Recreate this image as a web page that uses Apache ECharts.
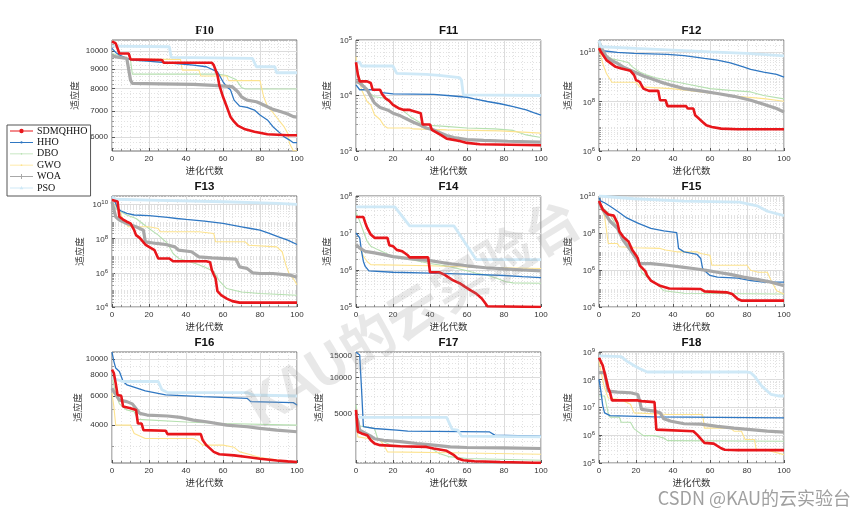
<!DOCTYPE html>
<html><head><meta charset="utf-8">
<script src="https://cdn.jsdelivr.net/npm/echarts@6/dist/echarts.min.js"></script>
<style>html,body{margin:0;padding:0;background:#fff}#c{width:865px;height:520px}</style>
</head><body><div id="c"></div>
<script>
const algorithms = ['SDMQHHO','HHO','DBO','GWO','WOA','PSO'];
const xTicks = [0,20,40,60,80,100];

// ---------- F10 ----------
const F10_SDMQHHO = [[0,10600],[2,10470],[4,9860],[9,9860],[10,9520],[27,9480],[28,9330],[54,9330],[55,9200],[57,8670],[58,8170],[60,7620],[62,7190],[64,6770],[66,6570],[68,6420],[72,6280],[77,6190],[84,6100],[95,6060],[100,6060]];
const F10_HHO = [[0,10160],[2,9920],[4,9770],[8,9570],[11,9480],[19,9420],[30,9330],[44,9200],[51,9110],[57,8840],[60,8330],[62,8090],[64,7950],[66,7470],[69,7210],[73,7150],[77,7040],[80,6840],[84,6640],[87,6380],[91,6130],[93,6010],[96,5890],[98,5800],[100,5800]];
const F10_DBO = [[0,9860],[5,9700],[10,9480],[11,8720],[57,8720],[62,8650],[67,8450],[70,8050],[72,7980],[100,7980]];
const F10_GWO = [[0,9710],[5,9600],[11,9520],[37,9520],[38,8930],[47,8930],[48,8620],[62,8620],[63,8390],[80,8390],[82,7620],[84,7200],[87,6940],[91,6550],[93,6380],[95,6130],[96,5770],[98,5530],[100,5530]];
const F10_WOA = [[0,9710],[3,9650],[8,9570],[9,9520],[10,8420],[11,8250],[26,8230],[44,8200],[55,8150],[65,8090],[68,7850],[70,7620],[73,7470],[78,7400],[80,7330],[84,7180],[87,7070],[91,6980],[95,6880],[98,6770],[100,6750]];
const F10_PSO = [[0,10300],[31,10260],[32,9630],[76,9570],[78,9110],[88,9110],[89,8790],[100,8790]];
const F10_range = [5520,10680];
const F10_ticks = [6000,7000,8000,9000,10000];

// ---------- F11 ----------
const F11_SDMQHHO = [[0,39800],[1,23800],[2,18000],[6,18000],[8,16800],[9,12700],[13,12700],[14,10700],[16,8900],[18,8000],[20,6760],[23,5900],[26,5500],[29,5500],[30,5100],[35,4800],[36,3000],[40,3000],[41,2400],[46,1930],[49,1670],[56,1520],[60,1400],[67,1320],[100,1270]];
const F11_HHO = [[0,15600],[2,12700],[13,12700],[14,11300],[20,10700],[42,10500],[51,9900],[60,9300],[64,8700],[71,7800],[78,7100],[85,6300],[92,5500],[96,4900],[100,4450]];
const F11_DBO = [[0,34000],[2,20000],[6,12000],[10,9500],[15,9000],[20,7000],[25,5500],[30,4000],[35,3200],[40,2900],[50,2750],[60,2600],[75,2500],[85,2350],[92,1950],[100,1750]];
const F11_GWO = [[0,50000],[1,25000],[3,12700],[6,7800],[8,6800],[10,4500],[13,3700],[15,2900],[17,2600],[29,2600],[31,2500],[49,2400],[78,2300],[100,2100]];
const F11_WOA = [[0,18000],[2,16800],[6,12700],[8,9600],[10,7300],[13,6100],[17,5500],[20,4800],[24,4300],[28,3700],[31,3300],[35,2900],[38,2600],[42,2400],[46,2100],[49,1900],[53,1750],[60,1600],[69,1550],[82,1500],[100,1450]];
const F11_PSO = [[0,39800],[2,39800],[3,34000],[20,34000],[22,25000],[38,24000],[45,23000],[56,21000],[57,19000],[58,10300],[100,10000]];
const F11_range = [1e3,1e5];
const F11_ticks = [1e3,1e4,1e5];

// ---------- F12 ----------
const F12_SDMQHHO = [[0,1.5e10],[1,1.06e10],[4,4.9e9],[9,2.6e9],[12,2.23e9],[17,1.8e9],[19,1.2e9],[20,7.5e8],[22,6.4e8],[24,3.4e8],[27,2.76e8],[32,2.76e8],[33,1.15e8],[36,1.15e8],[37,6.6e7],[47,6.6e7],[48,5.3e7],[51,5.3e7],[52,2.8e7],[54,2.07e7],[56,1.5e7],[58,1.1e7],[61,9.5e6],[66,8.1e6],[75,7.6e6],[100,7.6e6]];
const F12_HHO = [[0,2.5e10],[2,1.17e10],[10,1e10],[19,9.1e9],[37,8.3e9],[46,7.5e9],[57,5.7e9],[64,4.9e9],[71,3.8e9],[78,2.6e9],[82,2.04e9],[89,1.6e9],[96,1.3e9],[100,1.0e9]];
const F12_DBO = [[0,2e10],[3,9.1e9],[5,6.7e9],[7,5.5e9],[12,4.6e9],[16,3.8e9],[18,2.6e9],[22,1.6e9],[26,1.2e9],[30,9.6e8],[35,8e8],[46,5.5e8],[60,3.4e8],[71,2.9e8],[82,2.5e8],[89,1.8e8],[100,1.3e8]];
const F12_GWO = [[0,1.45e10],[2,3.6e9],[4,1.4e9],[7,6.2e8],[20,6.2e8],[22,4e8],[39,3.4e8],[55,2.5e8],[73,1.7e8],[89,1.34e8],[100,1.05e8]];
const F12_WOA = [[0,2.7e10],[2,1.24e10],[4,6.7e9],[7,4.6e9],[10,3.6e9],[13,2.6e9],[17,1.9e9],[21,1.4e9],[24,1.1e9],[28,8.8e8],[33,6.4e8],[39,4.7e8],[46,3.4e8],[55,2.76e8],[64,2.15e8],[73,1.66e8],[82,1.15e8],[89,7.9e7],[96,5.3e7],[100,3.8e7]];
const F12_PSO = [[0,3e10],[1,1.7e10],[20,1.45e10],[40,1.24e10],[60,1.06e10],[80,9.1e9],[100,7.3e9]];
const F12_range = [1e6,3.2e10];
const F12_ticks = [1e6,1e8,1e10];

// ---------- F13 ----------
const F13_SDMQHHO = [[0,1.8e10],[3,1.5e10],[4,1.9e9],[6,1.3e9],[8,9.7e8],[10,7.7e8],[11,4.9e8],[12,3.1e8],[13,1.6e8],[15,1.1e8],[18,4.5e7],[20,3.3e7],[23,2.1e7],[24,1.7e7],[25,6.9e6],[31,6.9e6],[33,4.7e6],[51,4.7e6],[53,4.2e6],[54,1.4e6],[55,8e5],[56,4.6e5],[57,8.4e4],[59,4.9e4],[62,3.1e4],[65,2.2e4],[69,1.8e4],[100,1.8e4]];
const F13_HHO = [[0,2.8e10],[2,1.14e10],[3,5.8e9],[5,4.1e9],[8,3e9],[12,2.4e9],[20,2.2e9],[30,1.73e9],[35,1.5e9],[40,1.32e9],[50,1.06e9],[60,7.7e8],[70,4.9e8],[75,3.9e8],[80,3.1e8],[85,2e8],[90,1.27e8],[95,8.1e7],[100,4.5e7]];
const F13_DBO = [[0,9.1e9],[3,4.7e9],[8,2.4e9],[13,1.5e9],[20,3.9e8],[25,1.6e8],[30,5.2e7],[33,1.35e7],[36,6.9e6],[45,3.5e6],[50,2.2e6],[55,1.2e6],[58,3.4e5],[62,1.2e5],[70,7.6e4],[80,6.1e4],[100,4.9e4]];
const F13_GWO = [[0,1.4e10],[3,6e9],[5,2.4e9],[6,1.2e9],[9,4.9e8],[20,4.9e8],[25,3.9e8],[26,2.5e8],[47,2.5e8],[55,2e8],[56,6.5e7],[72,6.5e7],[74,4.1e7],[89,3.3e7],[92,1.7e7],[94,2.8e6],[96,7.4e5],[98,4.7e5],[100,2e5]];
const F13_WOA = [[0,1.4e10],[2,1.9e9],[4,1.2e9],[8,7.7e8],[13,4.9e8],[17,3.1e8],[18,6.5e7],[24,5.2e7],[29,4.5e7],[34,3.3e7],[36,2.1e7],[43,1.7e7],[47,8.6e6],[54,7.5e6],[67,6.3e6],[69,2.2e6],[73,1.8e6],[76,1e6],[80,9.1e5],[87,9.1e5],[96,7.4e5],[100,5.5e5]];
const F13_PSO = [[0,2.8e10],[2,2e10],[20,1.8e10],[60,1.43e10],[90,1.15e10],[100,1e10]];
const F13_range = [1e4,3.1e10];
const F13_ticks = [1e4,1e6,1e8,1e10];

// ---------- F14 ----------
const F14_SDMQHHO = [[0,2.7e7],[4,2.7e7],[5,1.9e7],[6,1.4e7],[8,9.1e6],[10,7.4e6],[17,7.4e6],[18,4.7e6],[20,4.4e6],[22,3.5e6],[25,3.2e6],[28,2.5e6],[29,2.2e6],[39,2.2e6],[40,8.7e5],[45,8.7e5],[48,7.4e5],[52,5.4e5],[56,4.4e5],[59,3.5e5],[62,2.8e5],[65,2.3e5],[68,1.7e5],[70,1.25e5],[71,1.05e5],[100,1.0e5]];
const F14_HHO = [[0,1e7],[2,7.4e6],[3,3.2e6],[4,1.7e6],[5,1.25e6],[7,9.5e5],[20,8.7e5],[40,8.2e5],[60,7.7e5],[80,7.1e5],[90,6.6e5],[100,6.2e5]];
const F14_DBO = [[0,3.6e7],[2,2.1e7],[4,1.1e7],[6,6e6],[8,4.4e6],[12,3.5e6],[20,2.3e6],[30,1.9e6],[40,1.5e6],[50,1.25e6],[60,9.5e5],[65,8.2e5],[70,7.4e5],[76,6e5],[81,4.8e5],[85,4.5e5],[100,4.4e5]];
const F14_GWO = [[0,4.9e6],[2,3.9e6],[4,2.4e6],[6,1.7e6],[8,1.4e6],[40,1.3e6],[60,1.2e6],[100,1.1e6]];
const F14_WOA = [[0,4.9e6],[2,3.9e6],[5,3.2e6],[10,2.9e6],[15,2.6e6],[20,2.3e6],[30,2e6],[40,1.8e6],[50,1.5e6],[60,1.3e6],[70,1.15e6],[80,1.07e6],[90,1e6],[100,9.5e5]];
const F14_PSO = [[0,5.1e7],[21,5.1e7],[29,1.55e7],[53,1.55e7],[65,1.9e6],[100,1.9e6]];
const F14_range = [1e5,1e8];
const F14_ticks = [1e5,1e6,1e7,1e8];

// ---------- F15 ----------
const F15_SDMQHHO = [[0,5.3e9],[1,5.3e9],[2,1.86e9],[5,9.9e8],[8,8.7e8],[9,7.1e8],[10,3.4e8],[11,1.2e8],[13,6.4e7],[16,3.4e7],[18,1.2e7],[20,6.3e6],[21,4.2e6],[22,1.8e6],[25,8.7e5],[26,5.1e5],[28,2.7e5],[33,1.4e5],[38,1.0e5],[55,9.4e4],[57,7e4],[69,6.2e4],[72,5e4],[75,2.7e4],[77,2.2e4],[100,2.2e4]];
const F15_HHO = [[0,8.1e9],[1,5.3e9],[3,4.3e9],[6,2.8e9],[10,1.5e9],[15,6.5e8],[21,3.4e8],[28,1.8e8],[35,1.3e8],[42,1.06e8],[43,1.47e7],[46,9.6e6],[53,6.9e6],[55,4.2e6],[56,1.2e6],[58,7.6e5],[60,5.1e5],[64,4.1e5],[75,3.6e5],[82,2.7e5],[89,2.2e5],[100,2.2e5]];
const F15_DBO = [[0,3.5e9],[3,1.86e9],[6,9.9e8],[9,2.8e8],[12,9.6e7],[14,3.4e7],[17,1.8e7],[20,6.3e6],[22,2.2e6],[23,7.6e5],[26,4.1e5],[31,1.8e5],[35,7.6e4],[46,5.5e4],[100,5e4]];
const F15_GWO = [[0,4e9],[1,2.8e9],[3,8e8],[4,1.5e8],[5,2.7e7],[10,2.7e7],[11,1.8e7],[19,1.6e7],[33,1.47e7],[36,1.2e7],[42,9.6e6],[53,9.6e6],[55,7.8e6],[60,6.3e6],[61,1.8e6],[80,1.8e6],[82,9.6e5],[86,7.6e5],[91,7.6e5],[93,2.7e5],[96,7.6e4],[100,5e4]];
const F15_WOA = [[0,4.3e9],[2,1.86e9],[6,4.3e8],[10,1.8e8],[13,4.2e7],[17,1.2e7],[20,4.2e6],[22,2.2e6],[28,2.2e6],[37,1.8e6],[46,1.4e6],[51,1.2e6],[58,9.6e5],[64,7.6e5],[71,5.8e5],[78,4.1e5],[86,3e5],[93,2.2e5],[100,1.4e5]];
const F15_PSO = [[0,1e10],[19,7.1e9],[46,5.3e9],[76,4.7e9],[86,2.8e9],[91,1.5e9],[100,8.7e8]];
const F15_range = [1e4,1e10];
const F15_ticks = [1e4,1e6,1e8,1e10];

// ---------- F16 ----------
const F16_SDMQHHO = [[0,8620],[1,8220],[2,7150],[3,6080],[5,6000],[6,5170],[10,5050],[11,4930],[13,4930],[14,4090],[16,4090],[17,3730],[29,3700],[30,3530],[48,3530],[49,3250],[51,3030],[55,2760],[58,2670],[66,2630],[73,2570],[80,2510],[89,2450],[95,2420],[100,2400]];
const F16_HHO = [[0,11000],[1,9680],[2,8820],[4,8420],[5,7850],[6,7320],[8,6990],[11,6830],[18,6430],[29,6080],[49,5940],[73,5800],[75,5540],[98,5460],[100,5290]];
const F16_DBO = [[0,7850],[2,6220],[4,5370],[8,4930],[12,4820],[14,4330],[40,4180],[60,4090],[100,4000]];
const F16_GWO = [[0,6240],[1,5170],[2,4000],[10,4000],[12,3560],[18,3320],[44,3320],[46,3245],[49,3030],[60,3030],[66,2940],[69,2760],[73,2690],[80,2550],[89,2470],[98,2400],[100,2370]];
const F16_WOA = [[0,6670],[1,6370],[4,5660],[8,5540],[11,5370],[15,4710],[19,4600],[30,4540],[37,4450],[44,4290],[51,4190],[62,4000],[73,3910],[80,3820],[89,3730],[100,3650]];
const F16_PSO = [[0,7670],[6,7320],[25,7320],[27,6520],[30,6280],[73,6280],[76,6080],[100,5990]];
const F16_range = [2366,11020];
const F16_ticks = [4000,6000,8000,10000];

// ---------- F17 ----------
const F17_SDMQHHO = [[0,5410],[1,3580],[3,3470],[6,3360],[8,3050],[10,2870],[13,2780],[24,2720],[38,2690],[42,2610],[49,2500],[53,2300],[55,2160],[58,2090],[64,2050],[78,2020],[96,1995],[100,1990]];
const F17_HHO = [[0,16100],[2,15300],[3,8000],[4,3940],[5,3890],[10,3810],[22,3700],[28,3620],[72,3580],[75,3360],[100,3300]];
const F17_DBO = [[0,5950],[2,3990],[10,3810],[12,3050],[15,2960],[19,2780],[40,2660],[45,2370],[50,2240],[60,2160],[100,2090]];
const F17_GWO = [[0,4760],[1,3250],[13,3050],[15,2800],[17,2450],[51,2410],[100,2340]];
const F17_WOA = [[0,5075],[2,3700],[8,3300],[10,3140],[15,3050],[24,2970],[33,2870],[42,2780],[51,2690],[60,2660],[80,2640],[100,2610]];
const F17_PSO = [[0,4920],[2,4700],[49,4700],[52,3740],[55,3700],[57,3300],[100,3250]];
const F17_range = [1984,16180];
const F17_ticks = [5000,10000,15000];

// ---------- F18 ----------
const F18_SDMQHHO = [[0,6.2e8],[2,3.3e8],[3,1.8e8],[5,5.1e7],[6,3.4e7],[7,1.8e7],[21,1.8e7],[23,1.7e7],[30,1.56e7],[31,1.6e6],[32,1.4e6],[51,1.4e6],[53,1.05e6],[57,5.3e5],[62,5e5],[66,3.4e5],[68,3e5],[75,2.9e5],[100,2.9e5]];
const F18_HHO = [[0,1.03e8],[1,4e7],[2,1.2e7],[3,6.4e6],[6,5.1e6],[30,4.6e6],[100,4.2e6]];
const F18_DBO = [[0,2.6e7],[3,2.6e7],[5,6e6],[6,4.5e6],[11,4.5e6],[12,2.95e6],[17,2.95e6],[19,1.7e6],[24,9.7e5],[30,9.7e5],[35,8e5],[37,6.4e5],[100,6.1e5]];
const F18_GWO = [[0,4.7e8],[2,1e8],[3,5.1e7],[5,2.2e7],[12,1.9e7],[17,1.3e7],[19,6.4e6],[37,5.6e6],[56,5.6e6],[57,1.8e6],[71,1.8e6],[73,1.4e6],[77,1.4e6],[79,7e5],[84,7e5],[85,3.1e5],[91,2.9e5],[100,2e5]];
const F18_WOA = [[0,1.8e8],[3,1.8e8],[5,3.9e7],[10,3.6e7],[17,3.4e7],[21,2.95e7],[22,1.7e7],[23,8.5e6],[30,7.4e6],[33,6.5e6],[35,3.9e6],[39,3.2e6],[46,2.6e6],[55,2.5e6],[64,2.1e6],[73,1.8e6],[82,1.6e6],[91,1.4e6],[100,1.3e6]];
const F18_PSO = [[0,7.2e8],[12,6.8e8],[15,4.7e8],[21,2.7e8],[26,1.9e8],[80,1.9e8],[82,1.8e8],[84,1.35e8],[88,5.9e7],[93,2.95e7],[97,2.6e7],[100,2.6e7]];
const F18_range = [1e5,1e9];
const F18_ticks = [1e5,1e6,1e7,1e8,1e9];

// ---------- table for the library ----------
function linMinors(lo, hi, step, skip) { const o = []; for (let v = Math.ceil(lo / step) * step; v < hi; v += step) if (v % skip !== 0) o.push(v); return o; }
function decMinors(lo, hi) { const o = []; for (let e = Math.floor(Math.log10(lo)); e <= Math.ceil(Math.log10(hi)); e++) for (let m = 2; m <= 9; m++) { const v = m * Math.pow(10, e); if (v > lo && v < hi) o.push(v); } return o; }

const panels = [
  {name:'F10', s:[F10_SDMQHHO,F10_HHO,F10_DBO,F10_GWO,F10_WOA,F10_PSO], range:F10_range, ticks:F10_ticks, minor:linMinors(5520,10680,200,1000), sup:false, gap:33, serif:true},
  {name:'F11', s:[F11_SDMQHHO,F11_HHO,F11_DBO,F11_GWO,F11_WOA,F11_PSO], range:F11_range, ticks:F11_ticks, minor:decMinors(1e3,1e5), sup:true, gap:25},
  {name:'F12', s:[F12_SDMQHHO,F12_HHO,F12_DBO,F12_GWO,F12_WOA,F12_PSO], range:F12_range, ticks:F12_ticks, minor:decMinors(1e6,3.2e10), sup:true, gap:27},
  {name:'F13', s:[F13_SDMQHHO,F13_HHO,F13_DBO,F13_GWO,F13_WOA,F13_PSO], range:F13_range, ticks:F13_ticks, minor:decMinors(1e4,3.1e10), sup:true, gap:28},
  {name:'F14', s:[F14_SDMQHHO,F14_HHO,F14_DBO,F14_GWO,F14_WOA,F14_PSO], range:F14_range, ticks:F14_ticks, minor:decMinors(1e5,1e8), sup:true, gap:25},
  {name:'F15', s:[F15_SDMQHHO,F15_HHO,F15_DBO,F15_GWO,F15_WOA,F15_PSO], range:F15_range, ticks:F15_ticks, minor:decMinors(1e4,1e10), sup:true, gap:27},
  {name:'F16', s:[F16_SDMQHHO,F16_HHO,F16_DBO,F16_GWO,F16_WOA,F16_PSO], range:F16_range, ticks:F16_ticks, minor:[3000,5000,7000,9000,11000], sup:false, gap:29},
  {name:'F17', s:[F17_SDMQHHO,F17_HHO,F17_DBO,F17_GWO,F17_WOA,F17_PSO], range:F17_range, ticks:F17_ticks, minor:linMinors(1984,16180,1000,5000), sup:false, gap:33},
  {name:'F18', s:[F18_SDMQHHO,F18_HHO,F18_DBO,F18_GWO,F18_WOA,F18_PSO], range:F18_range, ticks:F18_ticks, minor:decMinors(1e5,1e9), sup:true, gap:27}
];

const colors = ['#e8161b','#2f77c2','#b6e0b0','#fde38e','#a8a8a8','#cfe9f7'];
const widths = [2.6, 1.3, 1.1, 1.1, 3.2, 2.8];
const zs = [6,3,2,2,4,5];

// legend icons: a short line with the series marker in the middle (23 x 9 box)
const box = 'M0,0h0.01v0.01h-0.01Z M23,9h-0.01v-0.01h0.01Z ';
const legendIcons = [
  'path://' + box + 'M0,3.9H23V5.1H0Z M9.3,4.5A2.2,2.2,0,1,1,13.7,4.5A2.2,2.2,0,1,1,9.3,4.5Z',
  'path://' + box + 'M0,4H23V5H0Z M10.4,4.5A1.1,1.1,0,1,1,12.6,4.5A1.1,1.1,0,1,1,10.4,4.5Z',
  'path://' + box + 'M0,4.1H23V4.9H0Z M10.6,4.5A0.9,0.9,0,1,1,12.4,4.5A0.9,0.9,0,1,1,10.6,4.5Z',
  'path://' + box + 'M0,4.1H23V4.9H0Z M10.6,4.5A0.9,0.9,0,1,1,12.4,4.5A0.9,0.9,0,1,1,10.6,4.5Z',
  'path://' + box + 'M0,4H23V5H0Z M11,2H12V7H11Z M9,4H14V5H9Z',
  'path://' + box + 'M0,4.1H23V4.9H0Z M11.5,2.6L13.3,5.8H9.7Z'
];

const colLeft = [112, 356, 599];
const rowTop = [40, 196, 352];
const W = 185, H = 111;
const axisTxt = '#333333';
const cjk = '"Noto Sans CJK SC", sans-serif';

const grid = [], xAxis = [], yAxis = [], series = [], title = [];
panels.forEach((p, i) => {
  const r = Math.floor(i / 3), c = i % 3;
  grid.push({left: colLeft[c], top: rowTop[r], width: W, height: H, show: true, borderColor: '#6e6e6e', borderWidth: 1, backgroundColor: '#fff', containLabel: false});
  title.push({text: p.name, left: colLeft[c] + W / 2, top: rowTop[r] - 15, textAlign: 'center', padding: 0,
    textStyle: {fontSize: 11.5, fontWeight: 'bold', color: '#111', fontFamily: p.serif ? '"Liberation Serif", serif' : '"Liberation Sans", Arial, sans-serif'}});
  xAxis.push({type: 'value', gridIndex: i, min: 0, max: 100, interval: 20,
    name: '进化代数', nameLocation: 'middle', nameGap: 15,
    nameTextStyle: {fontSize: 9.5, color: axisTxt, fontFamily: cjk},
    axisLine: {show: false},
    axisTick: {inside: true, length: 3, lineStyle: {color: '#555'}},
    minorTick: {show: true, splitNumber: 4, length: 2, lineStyle: {color: '#888'}},
    axisLabel: {fontSize: 8, color: axisTxt, margin: 4, fontFamily: '"Liberation Sans", Arial, sans-serif'},
    splitLine: {show: true, lineStyle: {color: '#dcdcdc', width: 1}},
    minorSplitLine: {show: true, lineStyle: {color: '#e2e2e2', width: 1, type: [1, 2]}}
  });
  const fmt = p.sup ? (v => '{b|10}{s|' + Math.round(Math.log10(v)) + '}') : (v => String(Math.round(v)));
  yAxis.push({type: 'log', logBase: 10, gridIndex: i, min: p.range[0], max: p.range[1],
    name: '适应度', nameLocation: 'middle', nameGap: p.gap, nameRotate: 90,
    nameTextStyle: {fontSize: 9.5, color: axisTxt, fontFamily: cjk},
    axisLine: {show: false},
    axisTick: {show: true, inside: true, length: 3, customValues: p.ticks, lineStyle: {color: '#555'}},
    axisLabel: {customValues: p.ticks, formatter: fmt, fontSize: 8, color: axisTxt, margin: 4, fontFamily: '"Liberation Sans", Arial, sans-serif',
      rich: {b: {fontSize: 8, color: axisTxt, verticalAlign: 'bottom'}, s: {fontSize: 6, color: axisTxt, verticalAlign: 'bottom', padding: [0, 0, 3.5, 0]}}},
    splitLine: {show: true, lineStyle: {color: '#dcdcdc', width: 1}},
    minorTick: {show: false}, minorSplitLine: {show: false}
  });
  yAxis.push({type: 'log', logBase: 10, gridIndex: i, min: p.range[0], max: p.range[1], position: 'left',
    axisLine: {show: false}, axisLabel: {show: false},
    axisTick: {show: true, inside: true, length: 2, customValues: p.minor, lineStyle: {color: '#999'}},
    splitLine: {show: true, lineStyle: {color: '#e2e2e2', width: 1, type: [1, 2]}}
  });
  p.s.forEach((d, k) => {
    series.push({name: algorithms[k], type: 'line', xAxisIndex: i, yAxisIndex: 2 * i, data: d,
      showSymbol: false, symbol: 'none', z: zs[k], silent: true,
      lineStyle: {color: colors[k], width: widths[k]}, itemStyle: {color: colors[k]}});
  });
});

const chart = echarts.init(document.getElementById('c'), null, {renderer: 'canvas'});
chart.setOption({
  animation: false,
  backgroundColor: '#ffffff',
  title: title,
  grid: grid, xAxis: xAxis, yAxis: yAxis, series: series,
  legend: {data: algorithms.map((n, k) => ({name: n, icon: legendIcons[k], itemStyle: {color: colors[k], borderWidth: 0}})),
    orient: 'vertical', left: 7, top: 125, itemWidth: 23, itemHeight: 9, itemGap: 1.4,
    padding: [1, 3, 3, 3], borderColor: '#555', borderWidth: 1, backgroundColor: '#fff',
    itemStyle: {borderWidth: 0},
    textStyle: {fontSize: 10, color: '#111', fontFamily: '"Liberation Serif", "Times New Roman", serif', lineHeight: 10, padding: [0, 0, 0, -1]}},
  graphic: [
    {type: 'text', x: 412, y: 312, rotation: 0.55, z: 100, silent: true,
      style: {text: 'KAU的云实验台', fontSize: 54, fontWeight: 'bold', fontFamily: cjk, fill: 'rgba(150,150,150,0.22)', align: 'center', verticalAlign: 'middle'}},
    {type: 'text', right: 14, top: 489, z: 100, silent: true,
      style: {text: 'CSDN @KAU的云实验台', fontSize: 18, fontFamily: cjk, fill: '#a0a0a0'}}
  ]
});
</script>
</body></html>
